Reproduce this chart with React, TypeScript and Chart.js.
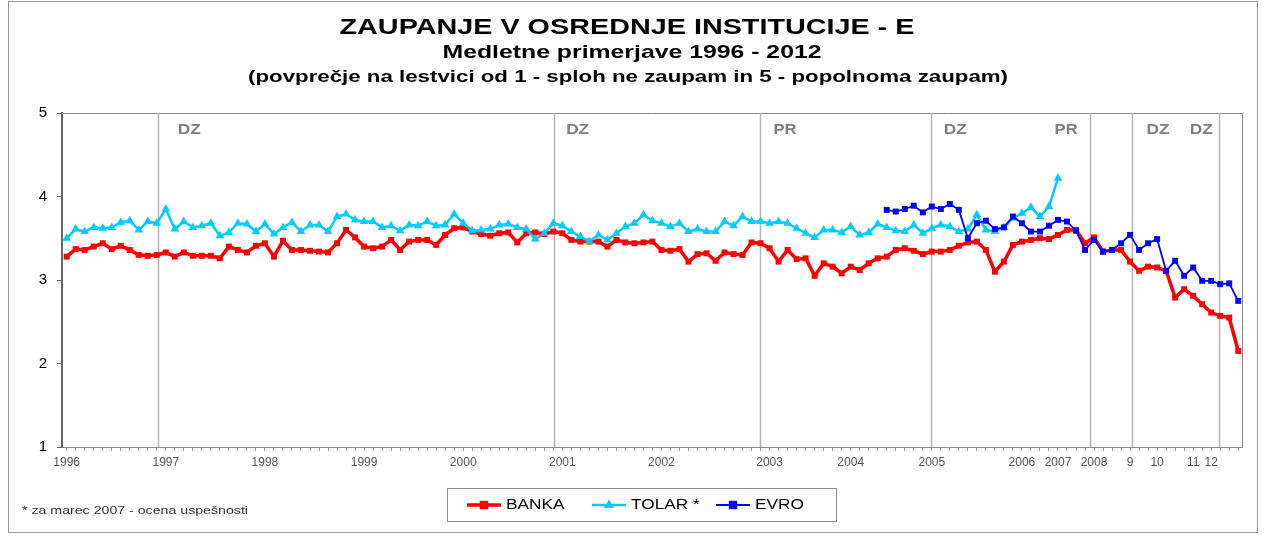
import React, { useEffect, useRef } from "react";
import { Chart, registerables } from "chart.js";

Chart.register(...registerables);

// ---------------- DATA ----------------
const BANKA: number[] = [
  3.28, 3.37, 3.36, 3.40, 3.44, 3.37, 3.41, 3.36, 3.30, 3.29, 3.30,
  3.33, 3.28, 3.33, 3.29, 3.29, 3.29, 3.26, 3.40, 3.36, 3.33, 3.41,
  3.44, 3.28, 3.47, 3.36, 3.36, 3.35, 3.34, 3.33, 3.44, 3.60, 3.51,
  3.40, 3.38, 3.40, 3.48, 3.36, 3.46, 3.48, 3.48, 3.42, 3.54, 3.62,
  3.63, 3.58, 3.55, 3.53, 3.56, 3.57, 3.45, 3.56, 3.57, 3.55, 3.58,
  3.56, 3.48, 3.46, 3.46, 3.46, 3.40, 3.48, 3.45, 3.44, 3.45, 3.46,
  3.36, 3.35, 3.37, 3.22, 3.31, 3.32, 3.23, 3.33, 3.31, 3.30, 3.45, 3.44,
  3.38, 3.22, 3.36, 3.25, 3.26, 3.05, 3.20, 3.16, 3.08,
  3.16, 3.12, 3.20, 3.26, 3.28, 3.36, 3.38, 3.35, 3.31,
  3.34, 3.34, 3.36, 3.41, 3.45, 3.46, 3.36, 3.10, 3.22, 3.42,
  3.46, 3.48, 3.50, 3.49,
  3.54, 3.60, 3.60, 3.44,
  3.51, 3.34, 3.36, 3.36,
  3.22, 3.11, 3.16,
  3.15, 3.11, 2.79, 2.89,
  2.81, 2.71,
  2.61, 2.57, 2.55, 2.15,
];

const TOLAR: number[] = [
  3.50, 3.61, 3.58, 3.63, 3.62, 3.63, 3.69, 3.71, 3.60, 3.70, 3.68,
  3.85, 3.61, 3.70, 3.63, 3.65, 3.68, 3.53, 3.57, 3.68, 3.67, 3.58,
  3.67, 3.55, 3.63, 3.69, 3.58, 3.66, 3.66, 3.58, 3.76, 3.79, 3.72,
  3.70, 3.70, 3.63, 3.65, 3.59, 3.66, 3.65, 3.70, 3.65, 3.66, 3.79,
  3.68, 3.59, 3.60, 3.61, 3.66, 3.67, 3.63, 3.61, 3.49, 3.56, 3.68,
  3.65, 3.58, 3.52, 3.46, 3.54, 3.48, 3.56, 3.64, 3.68, 3.78, 3.71,
  3.68, 3.64, 3.68, 3.58, 3.61, 3.58, 3.58, 3.70, 3.65, 3.76, 3.70, 3.70,
  3.68, 3.70, 3.68, 3.62, 3.56, 3.51, 3.60, 3.60, 3.57,
  3.64, 3.54, 3.57, 3.67, 3.63, 3.59, 3.58, 3.66, 3.56,
  3.62, 3.66, 3.64, 3.58, 3.61, 3.78, 3.60, 3.58, 3.63, 3.74,
  3.80, 3.87, 3.76, 3.88,
  4.22,
];

const EVRO_START = 91;
const EVRO: number[] = [
  3.84, 3.82, 3.85, 3.89, 3.81,
  3.88, 3.85, 3.91, 3.84, 3.50, 3.68, 3.71, 3.61, 3.63, 3.76,
  3.68, 3.58, 3.58, 3.65,
  3.72, 3.70, 3.59, 3.36,
  3.48, 3.34, 3.36, 3.44,
  3.54, 3.36, 3.44,
  3.49, 3.11, 3.23, 3.05,
  3.15, 2.99,
  2.99, 2.95, 2.96, 2.75,
];

const YEAR_LABELS = ["1996", "1997", "1998", "1999", "2000", "2001", "2002", "2003", "2004", "2005", "2006", "2007", "2008", "9", "10", "11", "12"];
const YEAR_INDEX = [0, 11, 22, 33, 44, 55, 66, 78, 87, 96, 106, 110, 114, 118, 121, 125, 127];

const EVENT_INDEX = [10.1, 54.1, 76.9, 95.9, 113.5, 118.2, 127.9];
const EVENT_LABELS = ["DZ", "DZ", "PR", "DZ", "PR", "DZ", "DZ"];
const EVENT_LABEL_AT = [13.6, 56.7, 79.7, 98.6, 110.9, 121.1, 125.9];

const Y_MIN = 1;
const Y_MAX = 5;

const TITLE_LINES = [
  "ZAUPANJE V OSREDNJE INSTITUCIJE - E",
  "Medletne primerjave 1996 - 2012",
  "(povprečje na lestvici od 1 - sploh ne zaupam in 5 - popolnoma zaupam)",
];
const FOOTNOTE = "* za marec 2007 - ocena uspešnosti";

// ---------------- STYLE / LAYOUT ----------------
const FONT = '"Liberation Sans", Arial, Helvetica, sans-serif';
const W = 1264;
const H = 539;
const PLOT = { left: 62, right: 1242, top: 113, bottom: 447 };
const X_AXIS_H = 30;

const TITLE_STYLE = [
  { y: 28, size: 22, cx: 627, width: 575 },
  { y: 53, size: 19, cx: 632, width: 379 },
  { y: 77, size: 17, cx: 628, width: 760 },
];

function drawStretched(
  ctx: CanvasRenderingContext2D,
  text: string,
  x: number,
  y: number,
  font: string,
  color: string,
  width: number | null,
  align: CanvasTextAlign = "center",
  ratio = 1
) {
  ctx.save();
  ctx.font = font;
  ctx.fillStyle = color;
  ctx.textBaseline = "middle";
  ctx.textAlign = align;
  const m = ctx.measureText(text).width;
  const sx = width ? width / m : ratio;
  ctx.translate(x, y);
  ctx.scale(sx, 1);
  ctx.fillText(text, 0, 0);
  ctx.restore();
}

function drawMarker(ctx: CanvasRenderingContext2D, style: string, x: number, y: number, r: number, color: string) {
  ctx.save();
  ctx.fillStyle = color;
  ctx.beginPath();
  if (style === "triangle") {
    const h = r * 1.7;
    ctx.moveTo(x, y - h * 0.66);
    ctx.lineTo(x + r, y + h * 0.34);
    ctx.lineTo(x - r, y + h * 0.34);
    ctx.closePath();
  } else {
    ctx.rect(x - r, y - r, r * 2, r * 2);
  }
  ctx.fill();
  ctx.restore();
}

const decorPlugin = {
  id: "decor",
  beforeDraw(chart: any) {
    const ctx = chart.ctx as CanvasRenderingContext2D;
    ctx.save();
    ctx.fillStyle = "#ffffff";
    ctx.fillRect(0, 0, W, H);
    // outer frame
    ctx.strokeStyle = "#9a9a9a";
    ctx.lineWidth = 1;
    ctx.strokeRect(8.5, 1.5, 1249, 531);
    ctx.restore();
  },
  beforeDatasetsDraw(chart: any) {
    const ctx = chart.ctx as CanvasRenderingContext2D;
    const xs = chart.scales.x;
    const a = chart.chartArea;
    ctx.save();
    // plot frame (top and right)
    ctx.strokeStyle = "#8c8c8c";
    ctx.lineWidth = 1;
    ctx.beginPath();
    ctx.moveTo(a.left, a.top + 0.5);
    ctx.lineTo(a.right + 0.5, a.top + 0.5);
    ctx.lineTo(a.right + 0.5, a.bottom);
    ctx.stroke();
    // event lines
    ctx.strokeStyle = "#b4b4b4";
    ctx.lineWidth = 1.5;
    EVENT_INDEX.forEach((v) => {
      const px = Math.round(xs.getPixelForValue(v)) + 0.5;
      ctx.beginPath();
      ctx.moveTo(px, a.top);
      ctx.lineTo(px, a.bottom);
      ctx.stroke();
    });
    ctx.restore();
    EVENT_LABELS.forEach((t, i) => {
      const px = xs.getPixelForValue(EVENT_LABEL_AT[i]);
      drawStretched(ctx, t, px, a.top + 17, `bold 14px ${FONT}`, "#7f7f7f", 23);
    });
  },
  afterDraw(chart: any) {
    const ctx = chart.ctx as CanvasRenderingContext2D;
    TITLE_LINES.forEach((t, i) => {
      const s = TITLE_STYLE[i];
      drawStretched(ctx, t, s.cx, s.y, `bold ${s.size}px ${FONT}`, "#000000", s.width);
    });
    // footnote
    drawStretched(ctx, FOOTNOTE, 22, 511, `11px ${FONT}`, "#333333", 226, "left");
    // legend
    const box = { x: 447.5, y: 488.5, w: 389, h: 33 };
    ctx.save();
    ctx.strokeStyle = "#8c8c8c";
    ctx.lineWidth = 1;
    ctx.strokeRect(box.x, box.y, box.w, box.h);
    ctx.restore();
    const starts = [467, 592, 716];
    const cy = box.y + box.h / 2;
    chart.data.datasets.forEach((ds: any, i: number) => {
      const sx = starts[i];
      ctx.save();
      ctx.strokeStyle = ds.borderColor;
      ctx.lineWidth = ds.borderWidth;
      ctx.beginPath();
      ctx.moveTo(sx, cy);
      ctx.lineTo(sx + 34, cy);
      ctx.stroke();
      ctx.restore();
      drawMarker(ctx, ds.pointStyle, sx + 17, cy, ds.pointRadius, ds.borderColor);
      drawStretched(ctx, ds.label, sx + 39, cy, `15px ${FONT}`, "#000000", null, "left", 1.15);
    });
  },
};

export default function App() {
  const ref = useRef<HTMLCanvasElement | null>(null);

  useEffect(() => {
    const canvas = ref.current;
    if (!canvas) return;
    const N = BANKA.length;
    const banka = BANKA.map((v, i) => ({ x: i, y: v }));
    const tolar = TOLAR.map((v, i) => ({ x: i, y: v }));
    const evro = EVRO.map((v, i) => ({ x: EVRO_START + i, y: v }));
    const labelAt = new Map<number, string>();
    YEAR_INDEX.forEach((ix, k) => labelAt.set(ix, YEAR_LABELS[k]));

    const chart = new Chart(canvas, {
      type: "line",
      data: {
        datasets: [
          {
            label: "BANKA",
            data: banka,
            borderColor: "#FF0000",
            backgroundColor: "#FF0000",
            borderWidth: 3.5,
            pointStyle: "rect",
            pointRadius: 4.2,
            pointBorderWidth: 0,
            order: 3,
          },
          {
            label: "TOLAR *",
            data: tolar,
            borderColor: "#00CCFF",
            backgroundColor: "#00CCFF",
            borderWidth: 2.5,
            pointStyle: "triangle",
            pointRadius: 5,
            pointBorderWidth: 0,
            order: 2,
          },
          {
            label: "EVRO",
            data: evro,
            borderColor: "#0000FF",
            backgroundColor: "#0000FF",
            borderWidth: 1.8,
            pointStyle: "rect",
            pointRadius: 4.2,
            pointBorderWidth: 0,
            order: 1,
          },
        ] as any,
      },
      options: {
        responsive: false,
        animation: false,
        events: [],
        layout: {
          padding: {
            left: 0,
            right: W - PLOT.right,
            top: PLOT.top,
            bottom: H - PLOT.bottom - X_AXIS_H,
          },
        },
        plugins: {
          legend: { display: false },
          title: { display: false },
          tooltip: { enabled: false },
        },
        elements: { line: { tension: 0 } },
        scales: {
          x: {
            type: "linear",
            min: -0.52,
            max: N - 1 + 0.42,
            afterBuildTicks: (scale: any) => {
              scale.ticks = Array.from({ length: N }, (_, i) => ({ value: i }));
            },
            afterFit: (scale: any) => {
              scale.height = X_AXIS_H;
            },
            ticks: {
              autoSkip: false,
              maxRotation: 0,
              minRotation: 0,
              padding: 4,
              color: "#555555",
              font: { family: FONT, size: 12 },
              callback: (v: any) => labelAt.get(Math.round(Number(v))) ?? "",
            },
            grid: { drawOnChartArea: false, drawTicks: true, tickLength: 4, color: "#999999" },
            border: { display: true, color: "#8c8c8c", width: 1 },
          },
          y: {
            type: "linear",
            min: Y_MIN,
            max: Y_MAX,
            afterFit: (scale: any) => {
              scale.width = PLOT.left;
            },
            ticks: {
              stepSize: 1,
              padding: 10,
              color: "#000000",
              font: { family: FONT, size: 15 },
            },
            grid: { drawOnChartArea: false, drawTicks: true, tickLength: 5, color: "#666666" },
            border: { display: true, color: "#666666", width: 2 },
          },
        },
      } as any,
      plugins: [decorPlugin],
    });
    return () => chart.destroy();
  }, []);

  return (
    <div style={{ position: "absolute", left: 0, top: 0, width: W, height: H, background: "#fff" }}>
      <canvas ref={ref} width={W} height={H} style={{ display: "block", width: W, height: H }} />
    </div>
  );
}
